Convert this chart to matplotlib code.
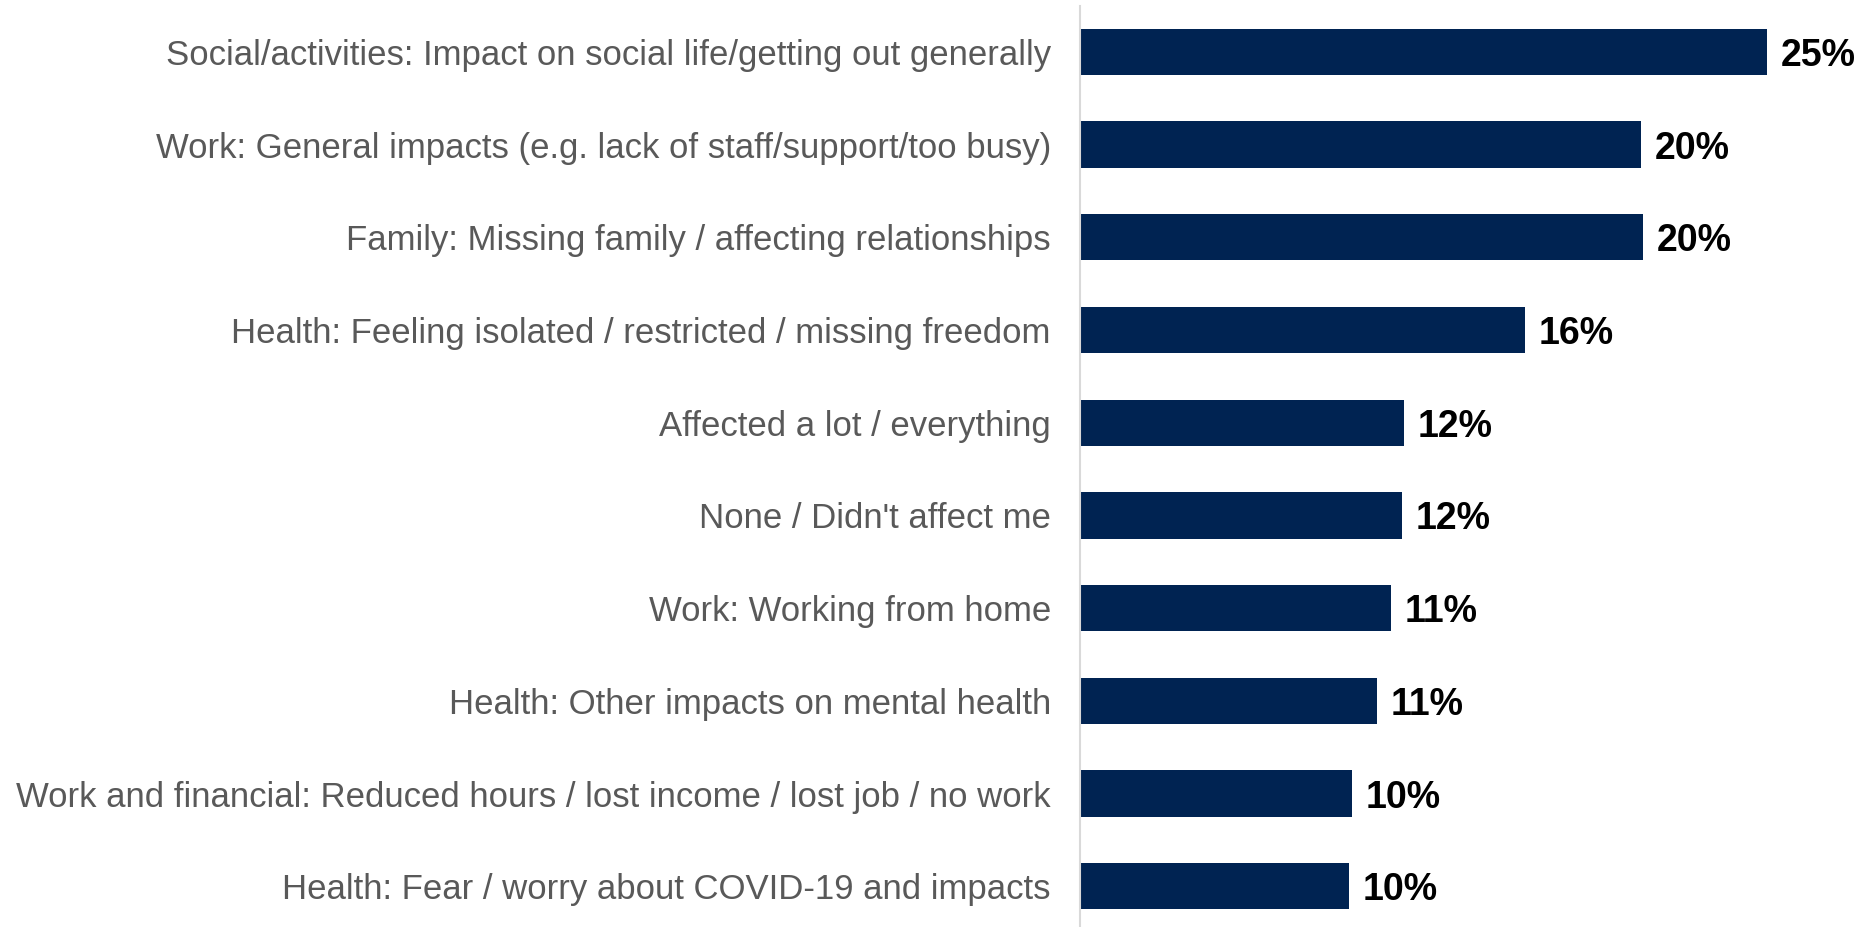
import matplotlib.pyplot as plt

categories = [
    "Social/activities: Impact on social life/getting out generally",
    "Work: General impacts (e.g. lack of staff/support/too busy)",
    "Family: Missing family / affecting relationships",
    "Health: Feeling isolated / restricted / missing freedom",
    "Affected a lot / everything",
    "None / Didn't affect me",
    "Work: Working from home",
    "Health: Other impacts on mental health",
    "Work and financial: Reduced hours / lost income / lost job / no work",
    "Health: Fear / worry about COVID-19 and impacts",
]
values = [25.0, 20.4, 20.5, 16.2, 11.8, 11.7, 11.3, 10.8, 9.9, 9.8]
labels = ["25%", "20%", "20%", "16%", "12%", "12%", "11%", "11%", "10%", "10%"]

plt.rcParams['font.family'] = ['Liberation Sans', 'DejaVu Sans']

fig = plt.figure(figsize=(18.65, 9.27), dpi=100)
ax = fig.add_axes([1080 / 1865, -0.006, 28.5 * 27.48 / 1865, 1.0])

y = list(range(len(categories)))
ax.barh(y, values, height=0.5, color='#002352')

for yi, v, lab in zip(y, values, labels):
    ax.text(v + 0.5, yi, lab, va='center_baseline', ha='left',
            fontsize=27, fontweight='bold', color='black')

ax.set_yticks(y)
ax.set_yticklabels(categories, fontsize=25, color='#595959')
ax.tick_params(axis='y', length=0, pad=21)
ax.set_ylim(len(categories) - 0.5, -0.5)
ax.set_xlim(0, 28.5)
ax.set_xticks([])

for side in ['top', 'right', 'bottom']:
    ax.spines[side].set_visible(False)
ax.spines['left'].set_color('#d9d9d9')
ax.spines['left'].set_linewidth(1.5)

fig.savefig('out.png', dpi=100)
